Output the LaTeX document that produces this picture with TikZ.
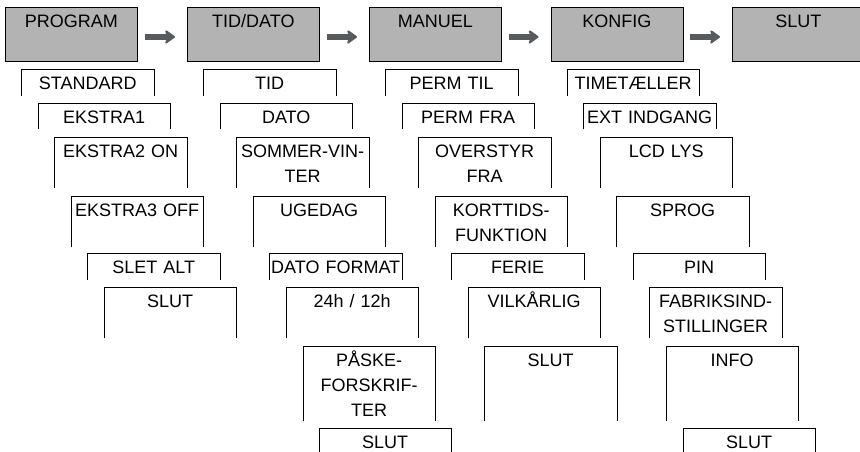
\documentclass[tikz,border=0pt]{standalone}
\usepackage{fontspec}
\setmainfont{Liberation Sans}
\usetikzlibrary{arrows.meta}
\definecolor{topgray}{RGB}{179,179,179}
\definecolor{arrowgray}{RGB}{88,91,94}
\tikzset{
  topbox/.style={draw=black, line width=0.8pt, fill=topgray, minimum width=132pt, minimum height=54pt, anchor=north west, inner sep=0pt},
  framebox/.style={minimum width=132pt, anchor=north west, inner sep=0pt},
  lbl/.style={font=\fontsize{18}{25}\selectfont, text width=140pt, align=center, inner sep=0pt, anchor=base},
  openframe/.style={line width=0.8pt, draw=black},
  menuarrow/.style={draw=arrowgray, line width=6pt, -{Stealth[length=12pt,width=17pt,inset=4pt,round]}},
}
\newcommand{\menubox}[5]{%
  \node[framebox, minimum height=#4pt] (#1) at (#2pt,-#3pt) {};
  \node[lbl] (#1-t) at ([yshift=-20.5pt]#1.north) {#5};
  \draw[openframe] (#1.south west) |- (#1.north east) -- (#1.south east);
}
\newcommand{\topmenu}[3]{%
  \node[topbox] (#1) at (#2pt,-7pt) {};
  \node[lbl] (#1-t) at ([yshift=-20pt]#1.north) {#3};
}
\begin{document}
\begin{tikzpicture}
\useasboundingbox (0,0) rectangle (860pt,-451pt);
% top row
\topmenu{p1}{5}{PROGRAM}
\topmenu{p2}{187}{TID/DATO}
\topmenu{p3}{369}{MANUEL}
\topmenu{p4}{550.5}{KONFIG}
\topmenu{p5}{732}{SLUT}
\draw[menuarrow] ([xshift=7pt,yshift=-2.5pt]p1.east) -- ([xshift=-12pt,yshift=-2.5pt]p2.west);
\draw[menuarrow] ([xshift=7pt,yshift=-2.5pt]p2.east) -- ([xshift=-12pt,yshift=-2.5pt]p3.west);
\draw[menuarrow] ([xshift=7pt,yshift=-2.5pt]p3.east) -- ([xshift=-12pt,yshift=-2.5pt]p4.west);
\draw[menuarrow] ([xshift=7pt,yshift=-2.5pt]p4.east) -- ([xshift=-12pt,yshift=-2.5pt]p5.west);
% column 1
\menubox{a0}{21.5}{69}{27}{STANDARD}
\menubox{a1}{38}{103}{26}{EKSTRA1}
\menubox{a2}{54.5}{137}{51}{EKSTRA2 ON}
\menubox{a3}{71}{196}{51}{EKSTRA3 OFF}
\menubox{a4}{87.5}{253}{27}{SLET ALT}
\menubox{a5}{104}{287}{51}{SLUT}
% column 2
\menubox{b0}{203.5}{69}{27}{TID}
\menubox{b1}{220}{103}{26}{DATO}
\menubox{b2}{236.5}{137}{51}{SOMMER-VIN-\\TER}
\menubox{b3}{253}{196}{51}{UGEDAG}
\menubox{b4}{269.5}{253}{27}{DATO FORMAT}
\menubox{b5}{286}{287}{51}{24h / 12h}
\menubox{b6}{303}{346}{75}{PÅSKE-\\FORSKRIF-\\TER}
\menubox{b7}{319}{428}{40}{SLUT}
% column 3
\menubox{c0}{385.5}{69}{27}{PERM TIL}
\menubox{c1}{402}{103}{26}{PERM FRA}
\menubox{c2}{418.5}{137}{51}{OVERSTYR\\FRA}
\menubox{c3}{435}{196}{51}{KORTTIDS-\\FUNKTION}
\menubox{c4}{451.5}{253}{27}{FERIE}
\menubox{c5}{468}{287}{51}{VILKÅRLIG}
\menubox{c6}{484.5}{346}{75}{SLUT}
% column 4
\menubox{d0}{567}{69}{27}{TIMETÆLLER}
\menubox{d1}{583.5}{103}{26}{EXT INDGANG}
\menubox{d2}{600}{137}{51}{LCD LYS}
\menubox{d3}{616.5}{196}{51}{SPROG}
\menubox{d4}{633}{253}{27}{PIN}
\menubox{d5}{649.5}{287}{51}{FABRIKSIND-\\STILLINGER}
\menubox{d6}{666}{346}{75}{INFO}
\menubox{d7}{683}{428}{40}{SLUT}
\end{tikzpicture}
\end{document}
